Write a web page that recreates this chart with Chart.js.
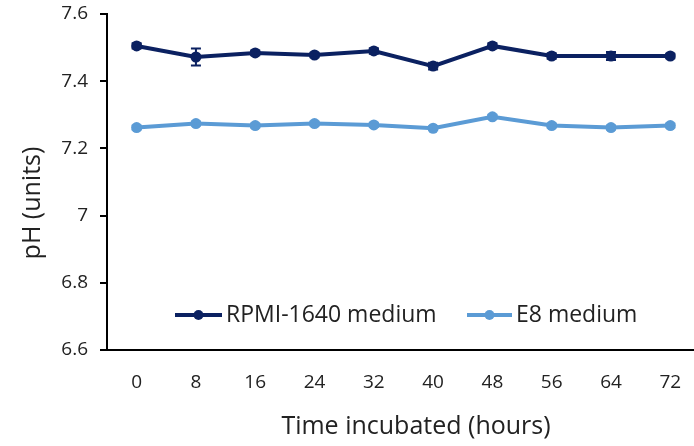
<!DOCTYPE html>
<html>
<head>
<meta charset="utf-8">
<script src="https://cdn.jsdelivr.net/npm/chart.js@4/dist/chart.umd.min.js"></script>
<style>
  html, body { margin: 0; padding: 0; background: #ffffff; }
  #wrap { width: 694px; height: 446px; position: relative; }
</style>
</head>
<body>
<div id="wrap"><canvas id="c" width="694" height="446"></canvas></div>
<script>
// ---- data ----
const hours = [0, 8, 16, 24, 32, 40, 48, 56, 64, 72];
const rpmiValues = [7.505, 7.472, 7.484, 7.478, 7.490, 7.445, 7.505, 7.475, 7.475, 7.475];
const rpmiErrors = [0.008, 0.025, 0.007, 0.007, 0.008, 0.010, 0.008, 0.008, 0.012, 0.007];
const e8Values = [7.262, 7.274, 7.268, 7.274, 7.270, 7.260, 7.294, 7.268, 7.262, 7.268];
const e8Errors = [0.006, 0.006, 0.006, 0.006, 0.006, 0.006, 0.006, 0.006, 0.006, 0.006];
const seriesNames = ['RPMI-1640 medium', 'E8 medium'];
const yTickValues = [6.6, 6.8, 7.0, 7.2, 7.4, 7.6];
const xTitle = 'Time incubated (hours)';
const yTitle = 'pH (units)';

const DARK = '#0b2161';
const LIGHT = '#5b9bd5';
const FONT = '"Open Sans", "Noto Sans", sans-serif';

function pts(vals) { return hours.map((h, i) => ({ x: h, y: vals[i] })); }

const errorBars = {
  id: 'errorBars',
  afterDatasetDraw(chart, args) {
    const ds = chart.data.datasets[args.index];
    if (!ds.errors) return;
    const ctx = chart.ctx, xs = chart.scales.x, ys = chart.scales.y;
    ctx.save();
    ctx.strokeStyle = ds.borderColor;
    ctx.lineWidth = 2;
    ds.data.forEach((p, i) => {
      const e = ds.errors[i];
      const x = xs.getPixelForValue(p.x);
      const y1 = ys.getPixelForValue(p.y + e);
      const y2 = ys.getPixelForValue(p.y - e);
      ctx.beginPath();
      ctx.moveTo(x, y1); ctx.lineTo(x, y2);
      ctx.moveTo(x - 5, y1); ctx.lineTo(x + 5, y1);
      ctx.moveTo(x - 5, y2); ctx.lineTo(x + 5, y2);
      ctx.stroke();
    });
    ctx.restore();
  }
};

const extras = {
  id: 'extras',
  afterDraw(chart) {
    const ctx = chart.ctx;
    ctx.save();
    ctx.fillStyle = '#222222';
    // x title
    ctx.font = '25px ' + FONT;
    ctx.textAlign = 'center';
    ctx.textBaseline = 'middle';
    ctx.fillText(xTitle, 416, 427);
    // y title
    ctx.save();
    ctx.translate(33, 203);
    ctx.rotate(-Math.PI / 2);
    ctx.fillText(yTitle, 0, 0);
    ctx.restore();
    // legend
    const items = [
      { x0: 175, x1: 222, tx: 226, color: DARK, name: seriesNames[0] },
      { x0: 467, x1: 512, tx: 516, color: LIGHT, name: seriesNames[1] }
    ];
    const ly = 315;
    ctx.font = '23px ' + FONT;
    ctx.textAlign = 'left';
    items.forEach(it => {
      ctx.strokeStyle = it.color;
      ctx.lineWidth = 4;
      ctx.beginPath(); ctx.moveTo(it.x0, ly); ctx.lineTo(it.x1, ly); ctx.stroke();
      ctx.fillStyle = it.color;
      ctx.beginPath(); ctx.arc((it.x0 + it.x1) / 2, ly, 5, 0, Math.PI * 2); ctx.fill();
      ctx.fillStyle = '#222222';
      ctx.fillText(it.name, it.tx, ly);
    });
    ctx.restore();
  }
};

new Chart(document.getElementById('c'), {
  type: 'line',
  data: {
    datasets: [
      { label: seriesNames[0], data: pts(rpmiValues), errors: rpmiErrors,
        borderColor: DARK, backgroundColor: DARK, borderWidth: 4,
        pointRadius: 5.5, pointBorderWidth: 0, pointBackgroundColor: DARK, tension: 0 },
      { label: seriesNames[1], data: pts(e8Values), errors: e8Errors,
        borderColor: LIGHT, backgroundColor: LIGHT, borderWidth: 4,
        pointRadius: 5.5, pointBorderWidth: 0, pointBackgroundColor: LIGHT, tension: 0 }
    ]
  },
  options: {
    responsive: false,
    animation: false,
    layout: { autoPadding: false, padding: { left: 0, right: 0, top: 14, bottom: 0 } },
    plugins: { legend: { display: false }, tooltip: { enabled: false } },
    scales: {
      x: {
        type: 'linear',
        min: -4,
        max: 75.2,
        afterBuildTicks: s => { s.ticks = hours.map(v => ({ value: v })); },
        afterFit: s => { s.height = 96; s.paddingLeft = 0; s.paddingRight = 0; },
        grid: { display: false, drawTicks: false },
        border: { display: true, color: '#000000', width: 2 },
        ticks: { color: '#222222', font: { family: FONT, size: 19 }, padding: 21,
                 maxRotation: 0, autoSkip: false, callback: v => String(v) }
      },
      y: {
        min: 6.6,
        max: 7.6,
        afterBuildTicks: s => { s.ticks = yTickValues.map(v => ({ value: v })); },
        afterFit: s => { s.width = 107; s.paddingTop = 0; s.paddingBottom = 0; },
        grid: { display: true, drawOnChartArea: false, drawTicks: true, tickLength: 7,
                color: '#000000', lineWidth: 2 },
        border: { display: true, color: '#000000', width: 2 },
        ticks: { color: '#222222', font: { family: FONT, size: 19 }, padding: 12,
                 callback: v => String(Number(v.toFixed(1))) }
      }
    }
  },
  plugins: [errorBars, extras]
});
</script>
</body>
</html>
